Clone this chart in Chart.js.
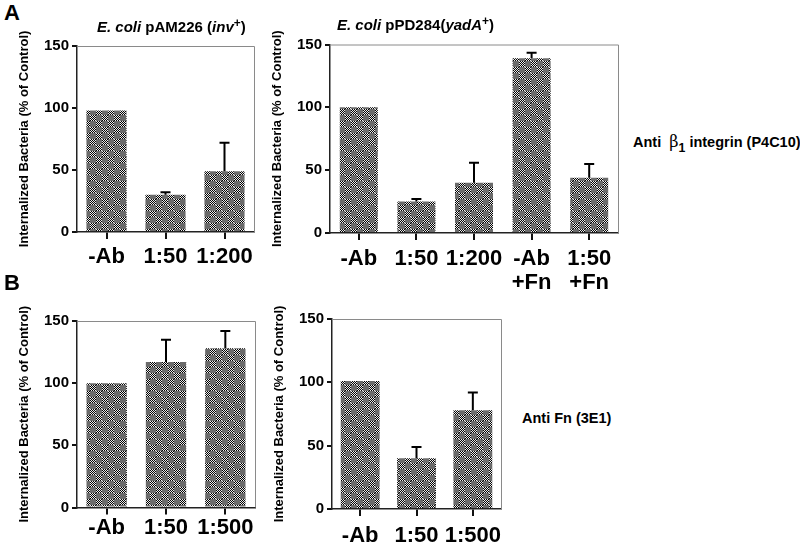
<!DOCTYPE html>
<html>
<head>
<meta charset="utf-8">
<script src="https://cdn.jsdelivr.net/npm/chart.js@4.4.1/dist/chart.umd.min.js"></script>
<style>
  body { margin: 0; background: #fff; font-family: "Liberation Sans", Arial, sans-serif; }
  #fig { position: relative; width: 800px; height: 546px; overflow: hidden; }
  canvas { position: absolute; }
  .t { position: absolute; font-weight: bold; color: #000; white-space: nowrap; line-height: 1; }
  .t i { font-style: italic; }
  .t sup { font-size: 80%; vertical-align: 0.45em; line-height: 0; }
  .t sub { font-size: 85%; vertical-align: -0.4em; line-height: 0; }
</style>
</head>
<body>
<div id="fig">
  <canvas id="a1" width="265" height="272" style="left:0;top:25px"></canvas>
  <canvas id="a2" width="375" height="277" style="left:255px;top:25px"></canvas>
  <canvas id="b1" width="265" height="251" style="left:0;top:295px"></canvas>
  <canvas id="b2" width="260" height="251" style="left:255px;top:295px"></canvas>
  <div class="t" style="left:4px;top:2px;font-size:22px">A</div>
  <div class="t" style="left:4px;top:272px;font-size:22px">B</div>
  <div class="t" style="left:97px;top:19px;font-size:15px"><i>E. coli</i> pAM226 (<i>inv</i><sup>+</sup>)</div>
  <div class="t" style="left:337px;top:17px;font-size:15px"><i>E. coli</i> pPD284(<i>yadA</i><sup>+</sup>)</div>
  <div class="t" style="left:633px;top:134px;font-size:14.5px">Anti&nbsp; <span style="font-weight:normal;font-family:'DejaVu Serif',serif;font-size:16px">&beta;</span><sub>1</sub> integrin (P4C10)</div>
  <div class="t" style="left:522px;top:411px;font-size:14.5px">Anti Fn (3E1)</div>
</div>
<script>
// Panel A: anti beta1 integrin (P4C10)
const a1Labels = ["-Ab", "1:50", "1:200"];
const a1Values = [98, 30, 49];
const a1Errors = [0, 2, 23];

const a2Labels = ["-Ab", "1:50", "1:200", ["-Ab", "+Fn"], ["1:50", "+Fn"]];
const a2Values = [100, 25, 40, 139, 44];
const a2Errors = [0, 2, 16, 4.5, 11];

// Panel B: anti Fn (3E1)
const b1Labels = ["-Ab", "1:50", "1:500"];
const b1Values = [100, 117, 128];
const b1Errors = [0, 18, 14];

const b2Labels = ["-Ab", "1:50", "1:500"];
const b2Values = [101, 40, 78];
const b2Errors = [0, 9, 14];

const yTicks = [0, 50, 100, 150];
const yTitle = "Internalized Bacteria (% of Control)";
const fuente = '"Liberation Sans", Arial, sans-serif';

// trama punteada de las barras
function hacerTrama() {
  const c = document.createElement("canvas");
  c.width = 12; c.height = 12;
  const g = c.getContext("2d");
  g.fillStyle = "#6c6c6c";
  g.fillRect(0, 0, 12, 12);
  for (let y = 0; y < 12; y++) {
    for (let x = 0; x < 12; x++) {
      if ((Math.floor(x / 6) + Math.floor(y / 6)) % 2 === 0) {
        g.fillStyle = (x + y) % 2 ? "#000" : "#ececec";
        g.fillRect(x, y, 1, 1);
      }
    }
  }
  return g.createPattern(c, "repeat");
}
const trama = hacerTrama();

// barras de error (solo hacia arriba) y marco gris
const erroresPlugin = {
  id: "errores",
  afterDatasetsDraw(chart) {
    const ctx = chart.ctx;
    const ys = chart.scales.y;
    const ds = chart.data.datasets[0];
    const meta = chart.getDatasetMeta(0);
    const a = chart.chartArea;
    ctx.save();
    ctx.strokeStyle = "#8a8a8a";
    ctx.lineWidth = 1;
    ctx.beginPath();
    ctx.moveTo(a.left, a.top + 0.5);
    ctx.lineTo(a.right + 0.5, a.top + 0.5);
    ctx.lineTo(a.right + 0.5, a.bottom);
    ctx.stroke();
    ctx.strokeStyle = "#000";
    ctx.lineWidth = 2;
    meta.data.forEach((bar, i) => {
      const e = ds.errores[i];
      if (!e) return;
      const top = ys.getPixelForValue(ds.data[i] + e);
      ctx.beginPath();
      ctx.moveTo(bar.x, bar.y);
      ctx.lineTo(bar.x, top);
      ctx.moveTo(bar.x - 5, top);
      ctx.lineTo(bar.x + 5, top);
      ctx.stroke();
    });
    ctx.restore();
  }
};

function panel(id, labels, values, errors, caja) {
  const cv = document.getElementById(id);
  new Chart(cv.getContext("2d"), {
    type: "bar",
    data: {
      labels: labels,
      datasets: [{
        data: values,
        errores: errors,
        backgroundColor: trama,
        borderWidth: 0,
        categoryPercentage: 1,
        barPercentage: caja.barra
      }]
    },
    options: {
      responsive: false,
      animation: false,
      layout: { padding: { top: caja.arriba, right: caja.derecha, left: 0, bottom: 0 } },
      plugins: { legend: { display: false }, tooltip: { enabled: false } },
      scales: {
        x: {
          afterFit: s => { s.height = caja.altoX; },
          grid: { offset: false, drawOnChartArea: false, drawTicks: true, tickLength: 7, lineWidth: 2, color: "#111" },
          border: { display: true, color: "#222", width: 1.5 },
          ticks: {
            color: "#000", padding: caja.padX, maxRotation: 0, autoSkip: false,
            font: { family: fuente, size: 22, weight: "bold", lineHeight: 1.1 }
          }
        },
        y: {
          min: 0, max: 150,
          afterFit: s => { s.width = caja.anchoY; },
          afterBuildTicks: s => { s.ticks = yTicks.map(v => ({ value: v })); },
          grid: { drawOnChartArea: false, drawTicks: true, tickLength: 5, lineWidth: 2, color: "#111" },
          border: { display: true, color: "#222", width: 1.5 },
          ticks: { color: "#000", padding: 3, font: { family: fuente, size: 15, weight: "bold" } },
          title: {
            display: true, text: yTitle, color: "#000",
            padding: { top: caja.tituloY, bottom: 0 },
            font: { family: fuente, size: 13, weight: "bold", lineHeight: 1.1 }
          }
        }
      }
    },
    plugins: [erroresPlugin]
  });
}

// caja: área del gráfico dentro de cada canvas
panel("a1", a1Labels, a1Values, a1Errors, { anchoY: 77, derecha: 11, arriba: 21, altoX: 65, padX: 6, barra: 0.68, tituloY: 17 });
panel("a2", a2Labels, a2Values, a2Errors, { anchoY: 75, derecha: 12, arriba: 19.5, altoX: 69, padX: 7, barra: 0.66, tituloY: 15 });
panel("b1", b1Labels, b1Values, b1Errors, { anchoY: 77, derecha: 10, arriba: 26, altoX: 38.5, padX: 1, barra: 0.68, tituloY: 17 });
panel("b2", b2Labels, b2Values, b2Errors, { anchoY: 77, derecha: 14, arriba: 24, altoX: 37, padX: 8, barra: 0.69, tituloY: 17 });
</script>
</body>
</html>
